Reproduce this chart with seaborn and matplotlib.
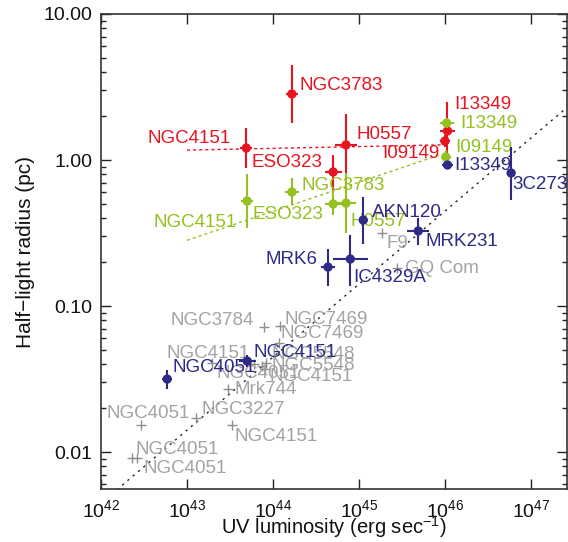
import numpy as np
import pandas as pd
import matplotlib
matplotlib.use("Agg")
import matplotlib.pyplot as plt
from matplotlib.ticker import FixedLocator, FuncFormatter, LogLocator, NullLocator
import seaborn as sns

# ---- data: log10 UV luminosity (erg/s) and log10 half-light radius (pc) ----
red_names = ["NGC4151", "NGC3783", "ESO323", "H0557", "I09149", "I13349"]
red_logL = [43.69, 44.22, 44.70, 44.85, 46.00, 46.03]
red_logR = [0.082, 0.452, -0.082, 0.103, 0.130, 0.199]
red_logR_lo = [-0.055, 0.253, -0.205, -0.116, 0.090, 0.000]
red_logR_hi = [0.219, 0.651, 0.034, 0.315, 0.170, 0.397]
red_xerr = [0.07, 0.07, 0.10, 0.13, 0.06, 0.09]

green_names = ["NGC4151", "NGC3783", "ESO323", "H0557", "I09149", "I13349"]
green_logL = [43.70, 44.22, 44.70, 44.85, 46.01, 46.02]
green_logR = [-0.281, -0.219, -0.301, -0.295, 0.021, 0.253]
green_logR_lo = [-0.466, -0.308, -0.377, -0.500, -0.030, 0.220]
green_logR_hi = [-0.096, -0.123, -0.205, -0.089, 0.070, 0.290]
green_xerr = [0.07, 0.08, 0.10, 0.12, 0.06, 0.08]

blue_names = ["NGC4051", "NGC4151", "MRK6", "IC4329A", "AKN120", "MRK231", "I13349", "3C273"]
blue_logL = [42.77, 43.70, 44.64, 44.90, 45.05, 45.69, 46.03, 46.77]
blue_logR = [-1.500, -1.377, -0.733, -0.678, -0.411, -0.486, -0.034, -0.089]
blue_logR_lo = [-1.565, -1.420, -0.863, -0.863, -0.575, -0.582, -0.060, -0.274]
blue_logR_hi = [-1.435, -1.335, -0.610, -0.514, -0.253, -0.397, -0.010, 0.089]
blue_xerr = [0.06, 0.10, 0.08, 0.20, 0.05, 0.13, 0.06, 0.0]

gray_names = ["NGC3784", "NGC7469", "NGC7469", "NGC4151", "NGC5548", "NGC5548",
              "NGC4151", "NGC4051", "Mrk744", "NGC3227", "NGC4051", "NGC4151",
              "NGC4051", "NGC4051", "F9", "GQ Com"]
gray_logL = [43.895, 44.081, 44.070, 43.779, 43.919, 43.872, 43.907, 43.291,
             43.477, 43.105, 42.465, 43.523, 42.360, 42.419, 45.267, 45.442]
gray_logR = [-1.144, -1.137, -1.253, -1.397, -1.390, -1.411, -1.432, -1.390,
             -1.568, -1.767, -1.815, -1.815, -2.041, -2.041, -0.500, -0.740]

# fitted relations: (slope, intercept, logL start, logL end)
red_fit = (0.012, -0.448, 43.0, 45.95)
green_fit = (0.199, -9.107, 43.0, 45.95)
ref_fit = (0.5, -23.35, 42.0, 47.42)

x_tick_exps = [42, 43, 44, 45, 46, 47]
y_tick_vals = [0.01, 0.10, 1.00, 10.00]

# ---- label placement (pixel offsets from each point, horizontal alignment) ----
red_lab = [(-16, 10, "right"), (8, 9, "left"), (-11, 9, "right"), (10, 10, "left"),
           (-5, -12, "right"), (7, 26, "left")]
green_lab = [(-10, -21, "right"), (10, 6, "left"), (-10, -11, "right"), (4, -18, "left"),
             (9, 9, "left"), (14, 0, "left")]
blue_lab = [(5, 12, "left"), (6, 9, "left"), (-10, 8, "right"), (3, -18, "left"),
            (9, 8, "left"), (7, -11, "left"), (7, -1, "left"), (1, -11, "left")]
gray_lab = [(-10, 7, "right"), (5, 7, "left"), (2, 9, "left"), (-4, 11, "right"),
            (6, 8, "left"), (10, 1, "left"), (5, -7, "left"), (5, -11, "left"),
            (7, -1, "left"), (5, 9, "left"), (7, 12, "center"), (3, -11, "left"),
            (4, 9, "left"), (6, -10, "left"), (5, -10, "left"), (8, 0, "left")]

RED = "#e8141f"
GREEN = "#95c11f"
BLUE = "#2e2a85"
GRAY = "#a3a3a3"
LABEL_SIZE = 13.5

sns.set_theme(style="ticks")
plt.rcParams["font.family"] = ["Liberation Sans", "DejaVu Sans"]
plt.rcParams["mathtext.fontset"] = "custom"
plt.rcParams["mathtext.rm"] = "Liberation Sans"
plt.rcParams["mathtext.it"] = "Liberation Sans:italic"
plt.rcParams["mathtext.bf"] = "Liberation Sans:bold"
plt.rcParams["axes.unicode_minus"] = True

fig = plt.figure(figsize=(5.68, 5.42), dpi=100)
ax = fig.add_axes([101 / 568, 1 - 489 / 542, 466 / 568, 475 / 542])
ax.set_xscale("log")
ax.set_yscale("log")
ax.set_xlim(1e42, 10 ** 47.42)
ax.set_ylim(10 ** -2.253, 10.0)


def fit_line(fit, color, dashes, lw):
    slope, icpt, a, b = fit
    xs = np.array([a, b])
    df = pd.DataFrame({"L": 10 ** xs, "R": 10 ** (slope * xs + icpt)})
    sns.lineplot(data=df, x="L", y="R", color=color, lw=lw, ax=ax,
                 dashes=False, zorder=1).lines[-1].set_dashes(dashes)


fit_line(ref_fit, "#222222", (1.6, 3.4), 1.0)
fit_line(red_fit, RED, (2.2, 2.2), 1.0)
fit_line(green_fit, GREEN, (2.2, 2.2), 1.0)

# gray comparison objects
gdf = pd.DataFrame({"L": 10 ** np.array(gray_logL), "R": 10 ** np.array(gray_logR)})
sns.scatterplot(data=gdf, x="L", y="R", marker="+", s=55, color="#8f8f8f",
                linewidth=1.0, ax=ax, zorder=2, legend=False)
for name, lx, ly, (dx, dy, ha) in zip(gray_names, gray_logL, gray_logR, gray_lab):
    ax.annotate(name, (10 ** lx, 10 ** ly), xytext=(dx, dy), textcoords="offset pixels",
                ha=ha, va="center", fontsize=LABEL_SIZE, color=GRAY, zorder=2)


def series(names, logL, logR, lo, hi, xerr, labs, color, z):
    L = 10 ** np.array(logL)
    R = 10 ** np.array(logR)
    yerr = np.vstack([R - 10 ** np.array(lo), 10 ** np.array(hi) - R])
    xe = np.array(xerr)
    xerr_arr = np.vstack([L - 10 ** (np.array(logL) - xe), 10 ** (np.array(logL) + xe) - L])
    ax.errorbar(L, R, yerr=yerr, xerr=xerr_arr, fmt="none", ecolor=color,
                elinewidth=1.5, capsize=0, zorder=z)
    df = pd.DataFrame({"L": L, "R": R})
    sns.scatterplot(data=df, x="L", y="R", color=color, s=45, edgecolor="none",
                    ax=ax, zorder=z + 0.5, legend=False)
    for name, x, y, (dx, dy, ha) in zip(names, L, R, labs):
        ax.annotate(name, (x, y), xytext=(dx, dy), textcoords="offset pixels",
                    ha=ha, va="center", fontsize=LABEL_SIZE, color=color, zorder=z + 1)


series(red_names, red_logL, red_logR, red_logR_lo, red_logR_hi, red_xerr, red_lab, RED, 3)
series(green_names, green_logL, green_logR, green_logR_lo, green_logR_hi, green_xerr,
       green_lab, GREEN, 4)
series(blue_names, blue_logL, blue_logR, blue_logR_lo, blue_logR_hi, blue_xerr,
       blue_lab, BLUE, 5)

# axes, ticks and labels
ax.xaxis.set_major_locator(FixedLocator([10.0 ** e for e in x_tick_exps]))
ax.xaxis.set_minor_locator(NullLocator())
ax.xaxis.set_major_formatter(FuncFormatter(lambda v, p: r"$10^{%d}$" % round(np.log10(v))))
ax.yaxis.set_major_locator(FixedLocator(y_tick_vals))
ax.yaxis.set_minor_locator(LogLocator(base=10, subs=np.arange(2, 10)))
ax.yaxis.set_major_formatter(FuncFormatter(lambda v, p: "%.2f" % v))
ax.tick_params(which="both", direction="in", top=True, right=True, colors="#222222",
               labelcolor="#111111")
ax.tick_params(which="major", length=7, width=1.0, labelsize=14, pad=6)
ax.tick_params(which="minor", length=3.5, width=1.0)
ax.tick_params(axis="x", which="major", pad=7)
for s in ax.spines.values():
    s.set_linewidth(1.2)
    s.set_color("#333333")

ax.set_xlabel(r"UV luminosity (erg sec$^{-1}$)", fontsize=14.5, color="#111111",
              labelpad=-4.5)
ax.set_ylabel("Half\u2212light radius (pc)", fontsize=15, color="#111111", labelpad=6)

fig.savefig("out.png", dpi=100)
